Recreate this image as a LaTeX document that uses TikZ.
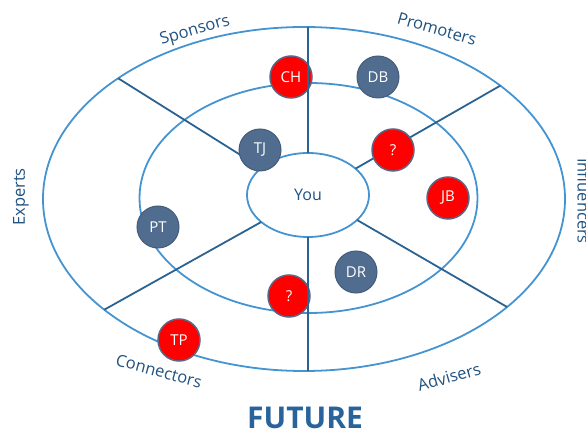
\documentclass[tikz,border=0pt]{standalone}
\usepackage{fontspec}
\setmainfont{Open Sans}
\usetikzlibrary{shapes.geometric}
\definecolor{ringblue}{RGB}{68,148,210}
\definecolor{spokeblue}{RGB}{42,98,145}
\definecolor{greyblue}{RGB}{80,108,142}
\definecolor{redfill}{RGB}{255,0,0}
\definecolor{redrim}{RGB}{95,100,130}
\definecolor{labelblue}{RGB}{32,82,128}
\definecolor{futureblue}{RGB}{40,100,155}
\tikzset{
  ring/.style={ellipse, draw=ringblue, line width=1.8pt, outer sep=0pt, inner sep=0pt},
  spoke/.style={draw=spokeblue, line width=1.8pt},
  person/.style={circle, minimum size=42pt, inner sep=0pt, text=white, font=\fontsize{15}{15}\selectfont},
  greyp/.style={person, fill=greyblue, draw=greyblue!85!black, line width=1pt},
  redp/.style={person, fill=redfill, draw=redrim, line width=1.5pt},
  seg/.style={text=labelblue, font=\fontsize{16.5}{16.5}\selectfont, inner sep=0pt}
}
\begin{document}
\begin{tikzpicture}[x=1pt,y=-1pt]
\useasboundingbox (0,0) rectangle (586,435);
\clip (0,0) rectangle (586,435);
% rings
\node[ring, minimum width=522pt, minimum height=344pt] (outer) at (304,199) {};
\node[ring, minimum width=338pt, minimum height=230pt] (middle) at (308.5,198) {};
\node[ring, minimum width=122pt, minimum height=84pt, text=labelblue, font=\fontsize{16}{16}\selectfont] (you) at (308,195) {You};
% diagonal spokes
\draw[spoke] (outer.147.5) -- (you.150);
\draw[spoke] (outer.30.4) -- (you.29.4);
\draw[spoke] (outer.209.6) -- (you.210.4);
\draw[spoke] (outer.332.5) -- (you.333.4);
% people
\node[redp] (ch) at (291,77) {CH};
\node[greyp] (db) at (378,77) {DB};
\node[greyp] (tj) at (260,150) {TJ};
\node[redp] (q1) at (393,150) {?};
\node[redp] (jb) at (448,198) {JB};
\node[greyp] (pt) at (158,227) {PT};
\node[greyp] (dr) at (356,272) {DR};
\node[redp] (q2) at (289,296) {?};
\node[redp] (tp) at (179,340) {TP};
% vertical spokes
\draw[spoke] (you.north) -- (you.north |- outer.north);
\draw[spoke] (you.south) -- (you.south |- outer.south);
% segment labels
\node[seg, rotate=16] (sponsors) at (195,31) {Sponsors};
\node[seg, rotate=-16] (promoters) at (437,29) {Promoters};
\node[seg, rotate=90] (experts) at (21,197) {Experts};
\node[seg, rotate=-90, anchor=base] (influencers) at (577.5,201) {Influencers};
\node[seg, rotate=-15] (connectors) at (159,371) {Connectors};
\node[seg, rotate=16] (advisers) at (449,377) {Advisers};
\node[text=futureblue, font=\fontsize{30}{30}\selectfont\bfseries, inner sep=0pt] (future) at (305,418) {FUTURE};
\end{tikzpicture}
\end{document}
